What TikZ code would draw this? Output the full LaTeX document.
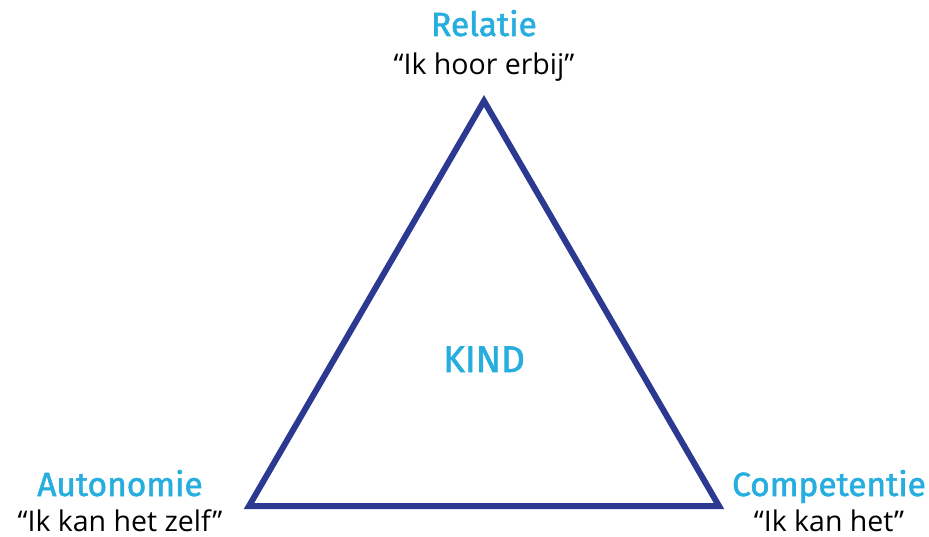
\documentclass[tikz,border=0pt]{standalone}
\usepackage{fontspec}
\setmainfont{Open Sans}
\newfontfamily\headfont[FakeBold=1.6]{Fira Sans}
\definecolor{tri}{HTML}{2B3990}
\definecolor{cy}{HTML}{27AEDF}
\begin{document}
\begin{tikzpicture}[x=1pt,y=-1pt,
  head/.style={font=\headfont\fontsize{33.5}{33.5}\selectfont, text=cy, inner sep=0pt, anchor=base},
  quote/.style={font=\fontsize{28.5}{28.5}\selectfont, text=black, inner sep=0pt, anchor=base},
  edge/.style={draw=tri, line width=6pt, line join=miter}]
\useasboundingbox (0,0) rectangle (929,537);
\coordinate (T) at (484,101);
\coordinate (L) at (249,506);
\coordinate (R) at (719,506);
\draw[edge] (T) -- (L) -- (R) -- cycle;
\node[head] (rel) at (484,36) {Relatie};
\node[quote] (relq) at (484,75) {“Ik hoor erbij”};
\node[head] (aut) at (120,496) {Autonomie};
\node[quote] (autq) at (120,531) {“Ik kan het zelf”};
\node[head] (com) at (829,496) {Competentie};
\node[quote] (comq) at (829,531) {“Ik kan het”};
\node[head, font=\headfont\fontsize{37}{37}\selectfont] (kind) at (484,372) {KIND};
\end{tikzpicture}
\end{document}
